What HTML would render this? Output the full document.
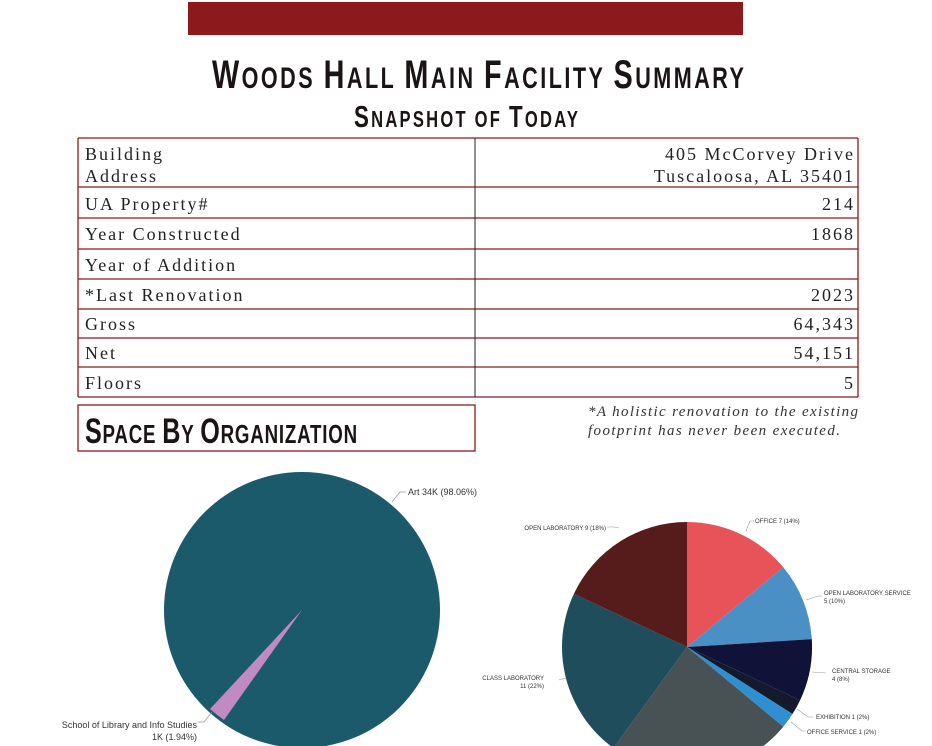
<!DOCTYPE html>
<html><head><meta charset="utf-8"><style>
body{margin:0;background:#fff;width:932px;height:746px;overflow:hidden}
svg{display:block}
</style></head><body>
<svg width="932" height="746" viewBox="0 0 932 746" xmlns="http://www.w3.org/2000/svg">
<rect x="188" y="2" width="555" height="33" fill="#8c1a1d"/>
<g font-family="Liberation Sans Narrow, Liberation Sans, sans-serif" font-weight="bold" fill="#1a1414" transform="scale(0.72,1)">
<text x="294.4" y="88" textLength="738.9" lengthAdjust="spacing" font-size="40"><tspan>W</tspan><tspan font-size="30">OODS </tspan><tspan>H</tspan><tspan font-size="30">ALL </tspan><tspan>M</tspan><tspan font-size="30">AIN </tspan><tspan>F</tspan><tspan font-size="30">ACILITY </tspan><tspan>S</tspan><tspan font-size="30">UMMARY</tspan></text>
<text x="491.7" y="127" textLength="311" lengthAdjust="spacing" font-size="31"><tspan>S</tspan><tspan font-size="23">NAPSHOT OF </tspan><tspan>T</tspan><tspan font-size="23">ODAY</tspan></text>
<text x="118" y="443" textLength="378" lengthAdjust="spacing" font-size="35"><tspan>S</tspan><tspan font-size="26">PACE </tspan><tspan>B</tspan><tspan font-size="26">Y </tspan><tspan>O</tspan><tspan font-size="26">RGANIZATION</tspan></text>
</g>
<g stroke="#8c1a1d" stroke-width="1.3" fill="none">
<line x1="78" y1="138" x2="858" y2="138"/><line x1="78" y1="187" x2="858" y2="187"/>
<line x1="78" y1="218" x2="858" y2="218"/><line x1="78" y1="249" x2="858" y2="249"/>
<line x1="78" y1="279" x2="858" y2="279"/><line x1="78" y1="309" x2="858" y2="309"/>
<line x1="78" y1="338" x2="858" y2="338"/><line x1="78" y1="367" x2="858" y2="367"/>
<line x1="78" y1="397" x2="858" y2="397"/>
<line x1="78" y1="138" x2="78" y2="397"/><line x1="858" y1="138" x2="858" y2="397"/>
<rect x="78" y="405" width="397" height="46"/>
</g>
<line x1="475" y1="138" x2="475" y2="397" stroke="#222" stroke-width="1"/>
<g font-family="Liberation Serif, serif" font-size="18" fill="#222" letter-spacing="2">
<text x="85" y="160">Building</text><text x="85" y="182">Address</text>
<text x="85" y="210">UA Property#</text>
<text x="85" y="240">Year Constructed</text>
<text x="85" y="271">Year of Addition</text>
<text x="85" y="301">*Last Renovation</text>
<text x="85" y="330">Gross</text>
<text x="85" y="359">Net</text>
<text x="85" y="389">Floors</text>
<g text-anchor="end">
<text x="855" y="160">405 McCorvey Drive</text><text x="855" y="182">Tuscaloosa, AL 35401</text>
<text x="855" y="210">214</text><text x="855" y="240">1868</text>
<text x="855" y="301">2023</text><text x="855" y="330">64,343</text>
<text x="855" y="359">54,151</text><text x="855" y="389">5</text>
</g></g>
<g font-family="Liberation Serif, serif" font-style="italic" font-size="15" fill="#333">
<text x="588" y="416" textLength="270" lengthAdjust="spacing">*A holistic renovation to the existing</text>
<text x="588" y="435" textLength="252" lengthAdjust="spacing">footprint has never been executed.</text>
</g>
<circle cx="302" cy="610" r="138" fill="#1b5a6b"/>
<path d="M302,610 L210,709 A138,138 0 0 0 224,720 Z" fill="#c08ac2"/>
<g stroke="#999" stroke-width="0.7" fill="none">
<polyline points="392,502 400,492 406,492"/>
<polyline points="212,712 204,722 198,722"/>
</g>
<g font-family="Liberation Sans, sans-serif" font-size="9" fill="#333">
<text x="408" y="495">Art 34K (98.06%)</text>
<text x="197" y="728" text-anchor="end">School of Library and Info Studies</text>
<text x="197" y="740" text-anchor="end">1K (1.94%)</text>
</g>
<path d="M687,647 L687,522 A125,125 0 0 1 783.3,567.3 Z" fill="#e8535a"/>
<path d="M687,647 L783.3,567.3 A125,125 0 0 1 811.8,639.1 Z" fill="#4a90c4"/>
<path d="M687,647 L811.8,639.1 A125,125 0 0 1 800.1,700.2 Z" fill="#111238"/>
<path d="M687,647 L800.1,700.2 A125,125 0 0 1 792.5,714 Z" fill="#141a2e"/>
<path d="M687,647 L792.5,714 A125,125 0 0 1 783.3,726.7 Z" fill="#2f8fd0"/>
<path d="M687,647 L783.3,726.7 A125,125 0 0 1 613.5,748.1 Z" fill="#485255"/>
<path d="M687,647 L613.5,748.1 A125,125 0 0 1 573.9,593.8 Z" fill="#1f4d5c"/>
<path d="M687,647 L573.9,593.8 A125,125 0 0 1 687,522 Z" fill="#561b1b"/>
<g stroke="#999" stroke-width="0.6" fill="none">
<polyline points="746,531 750,521 754,521"/>
<polyline points="806,600 818,596 822,596"/>
<polyline points="812,672 826,673"/>
<polyline points="797,709 808,717 813,717"/>
<polyline points="791,722 802,731 806,731"/>
<polyline points="559,680 562,679 566,678"/>
<polyline points="619,528 614,527 607,527"/>
</g>
<g font-family="Liberation Sans, sans-serif" font-size="6" fill="#333">
<text x="755" y="523">OFFICE 7 (14%)</text>
<text x="824" y="595">OPEN LABORATORY SERVICE</text><text x="824" y="603">5 (10%)</text>
<text x="832" y="673">CENTRAL STORAGE</text><text x="832" y="681">4 (8%)</text>
<text x="816" y="719">EXHIBITION 1 (2%)</text>
<text x="807" y="734">OFFICE SERVICE 1 (2%)</text>
<text x="544" y="680" text-anchor="end">CLASS LABORATORY</text><text x="544" y="688" text-anchor="end">11 (22%)</text>
<text x="606" y="530" text-anchor="end">OPEN LABORATORY 9 (18%)</text>
</g>
</svg>
</body></html>
